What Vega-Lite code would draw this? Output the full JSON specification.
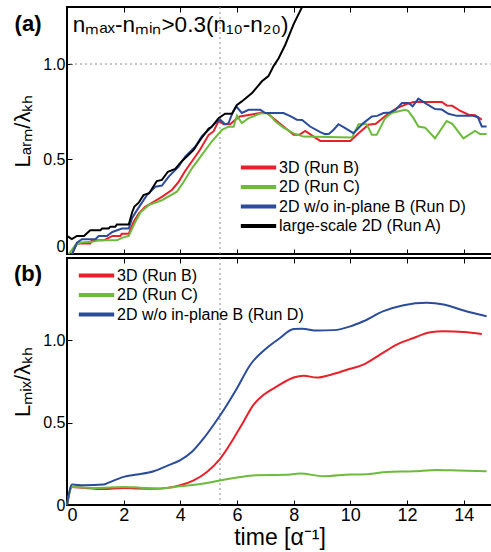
{
"$schema": "https://vega.github.io/schema/vega-lite/v6.json",
"padding": {"left": 10, "top": 5, "right": 0, "bottom": 0},
"config": {
  "font": "Liberation Sans",
  "view": {"stroke": "black", "strokeWidth": 2},
  "axis": {"domain": false, "grid": false, "ticks": true, "tickColor": "black", "tickSize": -5, "tickWidth": 1, "labelColor": "black", "titleColor": "black", "titleFontWeight": "normal", "labelFont": "Liberation Sans", "titleFont": "Liberation Sans", "minExtent": 0},
  "legend": {"title": null, "symbolType": "M-2.5,0L2.5,0", "symbolSize": 200, "symbolStrokeWidth": 4, "labelFontSize": 16, "labelOffset": 11, "labelLimit": 300, "rowPadding": 1.5, "labelFont": "Liberation Sans", "labelColor": "black"}
},
"spacing": 0,
"resolve": {"scale": {"color": "independent", "y": "independent"}, "legend": {"color": "independent"}},
"datasets": {
  "a": [
    {"run": "3D (Run B)", "t": 0.18, "v": 0}, {"run": "3D (Run B)", "t": 0.35, "v": 0.055}, {"run": "3D (Run B)", "t": 0.82, "v": 0.055}, {"run": "3D (Run B)", "t": 0.88, "v": 0.072}, {"run": "3D (Run B)", "t": 1.3, "v": 0.072}, {"run": "3D (Run B)", "t": 1.4, "v": 0.08}, {"run": "3D (Run B)", "t": 1.6, "v": 0.095}, {"run": "3D (Run B)", "t": 1.88, "v": 0.095}, {"run": "3D (Run B)", "t": 1.94, "v": 0.107}, {"run": "3D (Run B)", "t": 2.18, "v": 0.107}, {"run": "3D (Run B)", "t": 2.35, "v": 0.169}, {"run": "3D (Run B)", "t": 2.53, "v": 0.213}, {"run": "3D (Run B)", "t": 2.76, "v": 0.248}, {"run": "3D (Run B)", "t": 3.06, "v": 0.275}, {"run": "3D (Run B)", "t": 3.35, "v": 0.301}, {"run": "3D (Run B)", "t": 3.7, "v": 0.337}, {"run": "3D (Run B)", "t": 3.94, "v": 0.38}, {"run": "3D (Run B)", "t": 4.17, "v": 0.437}, {"run": "3D (Run B)", "t": 4.53, "v": 0.513}, {"run": "3D (Run B)", "t": 4.7, "v": 0.55}, {"run": "3D (Run B)", "t": 5.0, "v": 0.627}, {"run": "3D (Run B)", "t": 5.17, "v": 0.645}, {"run": "3D (Run B)", "t": 5.35, "v": 0.7}, {"run": "3D (Run B)", "t": 5.53, "v": 0.683}, {"run": "3D (Run B)", "t": 5.76, "v": 0.683}, {"run": "3D (Run B)", "t": 5.97, "v": 0.71}, {"run": "3D (Run B)", "t": 6.1, "v": 0.724}, {"run": "3D (Run B)", "t": 6.47, "v": 0.733}, {"run": "3D (Run B)", "t": 6.82, "v": 0.742}, {"run": "3D (Run B)", "t": 7.05, "v": 0.742}, {"run": "3D (Run B)", "t": 7.35, "v": 0.707}, {"run": "3D (Run B)", "t": 7.64, "v": 0.671}, {"run": "3D (Run B)", "t": 8.0, "v": 0.627}, {"run": "3D (Run B)", "t": 8.2, "v": 0.627}, {"run": "3D (Run B)", "t": 8.41, "v": 0.648}, {"run": "3D (Run B)", "t": 8.64, "v": 0.624}, {"run": "3D (Run B)", "t": 8.94, "v": 0.595}, {"run": "3D (Run B)", "t": 10.0, "v": 0.595}, {"run": "3D (Run B)", "t": 10.29, "v": 0.636}, {"run": "3D (Run B)", "t": 10.64, "v": 0.68}, {"run": "3D (Run B)", "t": 10.9, "v": 0.685}, {"run": "3D (Run B)", "t": 11.29, "v": 0.733}, {"run": "3D (Run B)", "t": 11.64, "v": 0.768}, {"run": "3D (Run B)", "t": 11.99, "v": 0.789}, {"run": "3D (Run B)", "t": 12.23, "v": 0.8}, {"run": "3D (Run B)", "t": 13.23, "v": 0.8}, {"run": "3D (Run B)", "t": 13.4, "v": 0.782}, {"run": "3D (Run B)", "t": 13.6, "v": 0.78}, {"run": "3D (Run B)", "t": 13.87, "v": 0.754}, {"run": "3D (Run B)", "t": 14.17, "v": 0.733}, {"run": "3D (Run B)", "t": 14.4, "v": 0.73}, {"run": "3D (Run B)", "t": 14.64, "v": 0.707},
    {"run": "2D (Run C)", "t": 0.06, "v": 0}, {"run": "2D (Run C)", "t": 0.29, "v": 0.046}, {"run": "2D (Run C)", "t": 0.5, "v": 0.06}, {"run": "2D (Run C)", "t": 0.9, "v": 0.065}, {"run": "2D (Run C)", "t": 1.12, "v": 0.072}, {"run": "2D (Run C)", "t": 1.76, "v": 0.072}, {"run": "2D (Run C)", "t": 1.94, "v": 0.085}, {"run": "2D (Run C)", "t": 2.18, "v": 0.095}, {"run": "2D (Run C)", "t": 2.41, "v": 0.169}, {"run": "2D (Run C)", "t": 2.6, "v": 0.22}, {"run": "2D (Run C)", "t": 2.88, "v": 0.257}, {"run": "2D (Run C)", "t": 3.35, "v": 0.283}, {"run": "2D (Run C)", "t": 3.88, "v": 0.328}, {"run": "2D (Run C)", "t": 4.12, "v": 0.38}, {"run": "2D (Run C)", "t": 4.41, "v": 0.451}, {"run": "2D (Run C)", "t": 4.76, "v": 0.522}, {"run": "2D (Run C)", "t": 5.11, "v": 0.592}, {"run": "2D (Run C)", "t": 5.47, "v": 0.654}, {"run": "2D (Run C)", "t": 5.7, "v": 0.67}, {"run": "2D (Run C)", "t": 5.88, "v": 0.67}, {"run": "2D (Run C)", "t": 6.0, "v": 0.728}, {"run": "2D (Run C)", "t": 6.17, "v": 0.689}, {"run": "2D (Run C)", "t": 6.41, "v": 0.715}, {"run": "2D (Run C)", "t": 6.58, "v": 0.724}, {"run": "2D (Run C)", "t": 6.82, "v": 0.74}, {"run": "2D (Run C)", "t": 7.11, "v": 0.742}, {"run": "2D (Run C)", "t": 7.35, "v": 0.698}, {"run": "2D (Run C)", "t": 7.64, "v": 0.665}, {"run": "2D (Run C)", "t": 8.0, "v": 0.635}, {"run": "2D (Run C)", "t": 8.35, "v": 0.618}, {"run": "2D (Run C)", "t": 10.06, "v": 0.613}, {"run": "2D (Run C)", "t": 10.29, "v": 0.683}, {"run": "2D (Run C)", "t": 10.58, "v": 0.683}, {"run": "2D (Run C)", "t": 10.76, "v": 0.627}, {"run": "2D (Run C)", "t": 10.93, "v": 0.627}, {"run": "2D (Run C)", "t": 11.23, "v": 0.715}, {"run": "2D (Run C)", "t": 11.46, "v": 0.742}, {"run": "2D (Run C)", "t": 11.93, "v": 0.759}, {"run": "2D (Run C)", "t": 12.05, "v": 0.752}, {"run": "2D (Run C)", "t": 12.23, "v": 0.715}, {"run": "2D (Run C)", "t": 12.4, "v": 0.671}, {"run": "2D (Run C)", "t": 12.64, "v": 0.665}, {"run": "2D (Run C)", "t": 12.99, "v": 0.609}, {"run": "2D (Run C)", "t": 13.4, "v": 0.7}, {"run": "2D (Run C)", "t": 13.6, "v": 0.685}, {"run": "2D (Run C)", "t": 13.99, "v": 0.609}, {"run": "2D (Run C)", "t": 14.4, "v": 0.648}, {"run": "2D (Run C)", "t": 14.58, "v": 0.631}, {"run": "2D (Run C)", "t": 14.81, "v": 0.631},
    {"run": "2D w/o in-plane B (Run D)", "t": 0.18, "v": 0}, {"run": "2D w/o in-plane B (Run D)", "t": 0.35, "v": 0.06}, {"run": "2D w/o in-plane B (Run D)", "t": 0.53, "v": 0.078}, {"run": "2D w/o in-plane B (Run D)", "t": 1.0, "v": 0.078}, {"run": "2D w/o in-plane B (Run D)", "t": 1.12, "v": 0.095}, {"run": "2D w/o in-plane B (Run D)", "t": 1.41, "v": 0.095}, {"run": "2D w/o in-plane B (Run D)", "t": 1.6, "v": 0.116}, {"run": "2D w/o in-plane B (Run D)", "t": 1.94, "v": 0.134}, {"run": "2D w/o in-plane B (Run D)", "t": 2.18, "v": 0.134}, {"run": "2D w/o in-plane B (Run D)", "t": 2.3, "v": 0.19}, {"run": "2D w/o in-plane B (Run D)", "t": 2.47, "v": 0.231}, {"run": "2D w/o in-plane B (Run D)", "t": 2.82, "v": 0.31}, {"run": "2D w/o in-plane B (Run D)", "t": 3.12, "v": 0.354}, {"run": "2D w/o in-plane B (Run D)", "t": 3.35, "v": 0.36}, {"run": "2D w/o in-plane B (Run D)", "t": 3.59, "v": 0.407}, {"run": "2D w/o in-plane B (Run D)", "t": 3.94, "v": 0.46}, {"run": "2D w/o in-plane B (Run D)", "t": 4.17, "v": 0.513}, {"run": "2D w/o in-plane B (Run D)", "t": 4.53, "v": 0.566}, {"run": "2D w/o in-plane B (Run D)", "t": 4.76, "v": 0.62}, {"run": "2D w/o in-plane B (Run D)", "t": 5.0, "v": 0.654}, {"run": "2D w/o in-plane B (Run D)", "t": 5.23, "v": 0.689}, {"run": "2D w/o in-plane B (Run D)", "t": 5.41, "v": 0.707}, {"run": "2D w/o in-plane B (Run D)", "t": 5.58, "v": 0.683}, {"run": "2D w/o in-plane B (Run D)", "t": 5.7, "v": 0.688}, {"run": "2D w/o in-plane B (Run D)", "t": 5.82, "v": 0.735}, {"run": "2D w/o in-plane B (Run D)", "t": 5.97, "v": 0.777}, {"run": "2D w/o in-plane B (Run D)", "t": 6.17, "v": 0.742}, {"run": "2D w/o in-plane B (Run D)", "t": 6.41, "v": 0.759}, {"run": "2D w/o in-plane B (Run D)", "t": 6.82, "v": 0.759}, {"run": "2D w/o in-plane B (Run D)", "t": 7.0, "v": 0.742}, {"run": "2D w/o in-plane B (Run D)", "t": 7.64, "v": 0.742}, {"run": "2D w/o in-plane B (Run D)", "t": 7.9, "v": 0.724}, {"run": "2D w/o in-plane B (Run D)", "t": 8.11, "v": 0.707}, {"run": "2D w/o in-plane B (Run D)", "t": 8.3, "v": 0.705}, {"run": "2D w/o in-plane B (Run D)", "t": 8.58, "v": 0.671}, {"run": "2D w/o in-plane B (Run D)", "t": 8.94, "v": 0.641}, {"run": "2D w/o in-plane B (Run D)", "t": 9.11, "v": 0.631}, {"run": "2D w/o in-plane B (Run D)", "t": 9.25, "v": 0.633}, {"run": "2D w/o in-plane B (Run D)", "t": 9.41, "v": 0.654}, {"run": "2D w/o in-plane B (Run D)", "t": 9.58, "v": 0.683}, {"run": "2D w/o in-plane B (Run D)", "t": 9.82, "v": 0.662}, {"run": "2D w/o in-plane B (Run D)", "t": 10.11, "v": 0.636}, {"run": "2D w/o in-plane B (Run D)", "t": 10.46, "v": 0.689}, {"run": "2D w/o in-plane B (Run D)", "t": 10.76, "v": 0.724}, {"run": "2D w/o in-plane B (Run D)", "t": 10.95, "v": 0.727}, {"run": "2D w/o in-plane B (Run D)", "t": 11.17, "v": 0.742}, {"run": "2D w/o in-plane B (Run D)", "t": 11.4, "v": 0.745}, {"run": "2D w/o in-plane B (Run D)", "t": 11.6, "v": 0.76}, {"run": "2D w/o in-plane B (Run D)", "t": 11.82, "v": 0.795}, {"run": "2D w/o in-plane B (Run D)", "t": 12.05, "v": 0.795}, {"run": "2D w/o in-plane B (Run D)", "t": 12.2, "v": 0.777}, {"run": "2D w/o in-plane B (Run D)", "t": 12.4, "v": 0.818}, {"run": "2D w/o in-plane B (Run D)", "t": 12.7, "v": 0.789}, {"run": "2D w/o in-plane B (Run D)", "t": 12.99, "v": 0.763}, {"run": "2D w/o in-plane B (Run D)", "t": 13.23, "v": 0.76}, {"run": "2D w/o in-plane B (Run D)", "t": 13.46, "v": 0.738}, {"run": "2D w/o in-plane B (Run D)", "t": 13.76, "v": 0.727}, {"run": "2D w/o in-plane B (Run D)", "t": 14.34, "v": 0.727}, {"run": "2D w/o in-plane B (Run D)", "t": 14.5, "v": 0.72}, {"run": "2D w/o in-plane B (Run D)", "t": 14.64, "v": 0.671}, {"run": "2D w/o in-plane B (Run D)", "t": 14.81, "v": 0.671},
    {"run": "large-scale 2D (Run A)", "t": 0.0, "v": 0.095}, {"run": "large-scale 2D (Run A)", "t": 0.17, "v": 0.078}, {"run": "large-scale 2D (Run A)", "t": 0.35, "v": 0.095}, {"run": "large-scale 2D (Run A)", "t": 0.6, "v": 0.095}, {"run": "large-scale 2D (Run A)", "t": 0.82, "v": 0.125}, {"run": "large-scale 2D (Run A)", "t": 1.18, "v": 0.125}, {"run": "large-scale 2D (Run A)", "t": 1.24, "v": 0.134}, {"run": "large-scale 2D (Run A)", "t": 1.47, "v": 0.134}, {"run": "large-scale 2D (Run A)", "t": 1.53, "v": 0.143}, {"run": "large-scale 2D (Run A)", "t": 1.7, "v": 0.143}, {"run": "large-scale 2D (Run A)", "t": 1.76, "v": 0.155}, {"run": "large-scale 2D (Run A)", "t": 2.18, "v": 0.155}, {"run": "large-scale 2D (Run A)", "t": 2.3, "v": 0.22}, {"run": "large-scale 2D (Run A)", "t": 2.38, "v": 0.25}, {"run": "large-scale 2D (Run A)", "t": 2.53, "v": 0.27}, {"run": "large-scale 2D (Run A)", "t": 2.7, "v": 0.31}, {"run": "large-scale 2D (Run A)", "t": 2.9, "v": 0.32}, {"run": "large-scale 2D (Run A)", "t": 3.17, "v": 0.384}, {"run": "large-scale 2D (Run A)", "t": 3.35, "v": 0.39}, {"run": "large-scale 2D (Run A)", "t": 3.56, "v": 0.433}, {"run": "large-scale 2D (Run A)", "t": 3.82, "v": 0.448}, {"run": "large-scale 2D (Run A)", "t": 4.06, "v": 0.49}, {"run": "large-scale 2D (Run A)", "t": 4.23, "v": 0.513}, {"run": "large-scale 2D (Run A)", "t": 4.47, "v": 0.548}, {"run": "large-scale 2D (Run A)", "t": 4.7, "v": 0.6}, {"run": "large-scale 2D (Run A)", "t": 5.0, "v": 0.66}, {"run": "large-scale 2D (Run A)", "t": 5.1, "v": 0.668}, {"run": "large-scale 2D (Run A)", "t": 5.35, "v": 0.715}, {"run": "large-scale 2D (Run A)", "t": 5.58, "v": 0.738}, {"run": "large-scale 2D (Run A)", "t": 5.82, "v": 0.738}, {"run": "large-scale 2D (Run A)", "t": 6.0, "v": 0.785}, {"run": "large-scale 2D (Run A)", "t": 6.17, "v": 0.803}, {"run": "large-scale 2D (Run A)", "t": 6.53, "v": 0.847}, {"run": "large-scale 2D (Run A)", "t": 6.88, "v": 0.909}, {"run": "large-scale 2D (Run A)", "t": 7.11, "v": 0.936}, {"run": "large-scale 2D (Run A)", "t": 7.29, "v": 0.989}, {"run": "large-scale 2D (Run A)", "t": 7.47, "v": 1.03}, {"run": "large-scale 2D (Run A)", "t": 7.7, "v": 1.1}, {"run": "large-scale 2D (Run A)", "t": 8.0, "v": 1.21}, {"run": "large-scale 2D (Run A)", "t": 8.33, "v": 1.31}, {"run": "large-scale 2D (Run A)", "t": 8.6, "v": 1.4}
  ],
  "b": [
    {"run": "3D (Run B)", "t": 0.0, "v": 0}, {"run": "3D (Run B)", "t": 0.18, "v": 0.11}, {"run": "3D (Run B)", "t": 0.59, "v": 0.104}, {"run": "3D (Run B)", "t": 1.29, "v": 0.097}, {"run": "3D (Run B)", "t": 2.0, "v": 0.104}, {"run": "3D (Run B)", "t": 2.47, "v": 0.1}, {"run": "3D (Run B)", "t": 3.06, "v": 0.098}, {"run": "3D (Run B)", "t": 3.53, "v": 0.104}, {"run": "3D (Run B)", "t": 4.0, "v": 0.12}, {"run": "3D (Run B)", "t": 4.47, "v": 0.15}, {"run": "3D (Run B)", "t": 4.94, "v": 0.201}, {"run": "3D (Run B)", "t": 5.41, "v": 0.282}, {"run": "3D (Run B)", "t": 5.88, "v": 0.404}, {"run": "3D (Run B)", "t": 6.23, "v": 0.506}, {"run": "3D (Run B)", "t": 6.58, "v": 0.608}, {"run": "3D (Run B)", "t": 6.94, "v": 0.669}, {"run": "3D (Run B)", "t": 7.41, "v": 0.72}, {"run": "3D (Run B)", "t": 8.0, "v": 0.774}, {"run": "3D (Run B)", "t": 8.35, "v": 0.785}, {"run": "3D (Run B)", "t": 8.82, "v": 0.774}, {"run": "3D (Run B)", "t": 9.29, "v": 0.79}, {"run": "3D (Run B)", "t": 9.88, "v": 0.821}, {"run": "3D (Run B)", "t": 10.46, "v": 0.852}, {"run": "3D (Run B)", "t": 11.05, "v": 0.913}, {"run": "3D (Run B)", "t": 11.64, "v": 0.974}, {"run": "3D (Run B)", "t": 12.23, "v": 1.014}, {"run": "3D (Run B)", "t": 12.82, "v": 1.049}, {"run": "3D (Run B)", "t": 13.29, "v": 1.055}, {"run": "3D (Run B)", "t": 14.0, "v": 1.051}, {"run": "3D (Run B)", "t": 14.64, "v": 1.039},
    {"run": "2D (Run C)", "t": 0.0, "v": 0}, {"run": "2D (Run C)", "t": 0.18, "v": 0.11}, {"run": "2D (Run C)", "t": 1.0, "v": 0.104}, {"run": "2D (Run C)", "t": 2.0, "v": 0.11}, {"run": "2D (Run C)", "t": 2.6, "v": 0.105}, {"run": "2D (Run C)", "t": 3.24, "v": 0.1}, {"run": "2D (Run C)", "t": 4.0, "v": 0.114}, {"run": "2D (Run C)", "t": 4.82, "v": 0.13}, {"run": "2D (Run C)", "t": 5.53, "v": 0.154}, {"run": "2D (Run C)", "t": 6.0, "v": 0.167}, {"run": "2D (Run C)", "t": 6.7, "v": 0.181}, {"run": "2D (Run C)", "t": 7.7, "v": 0.183}, {"run": "2D (Run C)", "t": 8.23, "v": 0.191}, {"run": "2D (Run C)", "t": 9.05, "v": 0.175}, {"run": "2D (Run C)", "t": 10.0, "v": 0.185}, {"run": "2D (Run C)", "t": 10.6, "v": 0.187}, {"run": "2D (Run C)", "t": 11.29, "v": 0.201}, {"run": "2D (Run C)", "t": 12.23, "v": 0.205}, {"run": "2D (Run C)", "t": 13.05, "v": 0.213}, {"run": "2D (Run C)", "t": 13.8, "v": 0.21}, {"run": "2D (Run C)", "t": 14.81, "v": 0.205},
    {"run": "2D w/o in-plane B (Run D)", "t": 0.0, "v": 0}, {"run": "2D w/o in-plane B (Run D)", "t": 0.18, "v": 0.124}, {"run": "2D w/o in-plane B (Run D)", "t": 0.59, "v": 0.12}, {"run": "2D w/o in-plane B (Run D)", "t": 1.29, "v": 0.124}, {"run": "2D w/o in-plane B (Run D)", "t": 1.47, "v": 0.136}, {"run": "2D w/o in-plane B (Run D)", "t": 2.0, "v": 0.171}, {"run": "2D w/o in-plane B (Run D)", "t": 2.47, "v": 0.185}, {"run": "2D w/o in-plane B (Run D)", "t": 3.06, "v": 0.205}, {"run": "2D w/o in-plane B (Run D)", "t": 3.53, "v": 0.238}, {"run": "2D w/o in-plane B (Run D)", "t": 4.0, "v": 0.272}, {"run": "2D w/o in-plane B (Run D)", "t": 4.41, "v": 0.323}, {"run": "2D w/o in-plane B (Run D)", "t": 4.82, "v": 0.404}, {"run": "2D w/o in-plane B (Run D)", "t": 5.17, "v": 0.486}, {"run": "2D w/o in-plane B (Run D)", "t": 5.53, "v": 0.577}, {"run": "2D w/o in-plane B (Run D)", "t": 6.0, "v": 0.709}, {"run": "2D w/o in-plane B (Run D)", "t": 6.47, "v": 0.852}, {"run": "2D w/o in-plane B (Run D)", "t": 7.05, "v": 0.953}, {"run": "2D w/o in-plane B (Run D)", "t": 7.52, "v": 1.014}, {"run": "2D w/o in-plane B (Run D)", "t": 8.0, "v": 1.069}, {"run": "2D w/o in-plane B (Run D)", "t": 8.3, "v": 1.07}, {"run": "2D w/o in-plane B (Run D)", "t": 8.82, "v": 1.059}, {"run": "2D w/o in-plane B (Run D)", "t": 9.41, "v": 1.062}, {"run": "2D w/o in-plane B (Run D)", "t": 10.0, "v": 1.085}, {"run": "2D w/o in-plane B (Run D)", "t": 10.46, "v": 1.116}, {"run": "2D w/o in-plane B (Run D)", "t": 11.17, "v": 1.177}, {"run": "2D w/o in-plane B (Run D)", "t": 11.88, "v": 1.213}, {"run": "2D w/o in-plane B (Run D)", "t": 12.7, "v": 1.228}, {"run": "2D w/o in-plane B (Run D)", "t": 13.29, "v": 1.218}, {"run": "2D w/o in-plane B (Run D)", "t": 14.0, "v": 1.181}, {"run": "2D w/o in-plane B (Run D)", "t": 14.81, "v": 1.146}
  ]
},
"vconcat": [
  {
    "width": 425, "height": 247,
    "resolve": {"axis": {"x": "independent"}},
    "layer": [
      {"data": {"values": [{"v": 1}]}, "mark": {"type": "rule", "strokeDash": [2, 3], "color": "#8c8c8c", "strokeWidth": 1},
       "encoding": {"y": {"field": "v", "type": "quantitative", "scale": {"domain": [0, 1.3], "nice": false, "zero": false}, "axis": {"values": [0, 0.5, 1], "labelExpr": "datum.value == 0 ? '0' : format(datum.value, '.1f')", "labelFontSize": 16, "labelPadding": 7, "labelFlush": true, "title": "Lₐᵣₘ/λₖₕ", "titleFontSize": 22, "titlePadding": 8}}}},
      {"data": {"values": [{"t": 5.4}]}, "mark": {"type": "rule", "strokeDash": [2, 3], "color": "#8c8c8c", "strokeWidth": 1},
       "encoding": {"x": {"field": "t", "type": "quantitative", "scale": {"domain": [0, 15], "nice": false, "zero": false}, "axis": {"orient": "top", "values": [0, 2, 4, 6, 8, 10, 12, 14], "labels": false, "title": null}}}},
      {"data": {"name": "a"}, "mark": {"type": "line", "strokeWidth": 2, "clip": true},
       "encoding": {
         "x": {"field": "t", "type": "quantitative", "scale": {"domain": [0, 15], "nice": false, "zero": false}, "axis": {"values": [0, 2, 4, 6, 8, 10, 12, 14], "labels": false, "title": null}},
         "y": {"field": "v", "type": "quantitative", "scale": {"domain": [0, 1.3], "nice": false, "zero": false}, "axis": {"values": [0, 0.5, 1], "labelExpr": "datum.value == 0 ? '0' : format(datum.value, '.1f')", "labelFontSize": 16, "labelPadding": 7, "labelFlush": true, "title": "Lₐᵣₘ/λₖₕ", "titleFontSize": 22, "titlePadding": 8}},
         "color": {"field": "run", "type": "nominal", "scale": {"domain": ["3D (Run B)", "2D (Run C)", "2D w/o in-plane B (Run D)", "large-scale 2D (Run A)"], "range": ["#e8202a", "#6cbb3c", "#2b4c9b", "#000000"]}, "sort": null,
           "legend": {"orient": "none", "legendX": 182, "legendY": 151}}
       }},
      {"data": {"values": [{"t": 0.2, "v": 1.205, "label": "nₘₐₓ-nₘᵢₙ>0.3(n₁₀-n₂₀)"}]}, "mark": {"type": "text", "align": "left", "baseline": "middle", "fontSize": 22.5, "color": "black"},
       "encoding": {"x": {"field": "t", "type": "quantitative", "axis": null}, "y": {"field": "v", "type": "quantitative", "scale": {"domain": [0, 1.3], "nice": false, "zero": false}, "axis": {"values": [0, 0.5, 1], "labelExpr": "datum.value == 0 ? '0' : format(datum.value, '.1f')", "labelFontSize": 16, "labelPadding": 7, "labelFlush": true, "title": "Lₐᵣₘ/λₖₕ", "titleFontSize": 22, "titlePadding": 8}}, "text": {"field": "label"}}},
      {"data": {"values": [{"t": -1.376, "v": 1.21, "label": "(a)"}]}, "mark": {"type": "text", "align": "center", "baseline": "middle", "fontSize": 22, "fontWeight": "bold", "color": "black"},
       "encoding": {"x": {"field": "t", "type": "quantitative", "axis": null}, "y": {"field": "v", "type": "quantitative", "scale": {"domain": [0, 1.3], "nice": false, "zero": false}, "axis": {"values": [0, 0.5, 1], "labelExpr": "datum.value == 0 ? '0' : format(datum.value, '.1f')", "labelFontSize": 16, "labelPadding": 7, "labelFlush": true, "title": "Lₐᵣₘ/λₖₕ", "titleFontSize": 22, "titlePadding": 8}}, "text": {"field": "label"}}}
    ]
  },
  {
    "width": 425, "height": 247,
    "resolve": {"axis": {"x": "independent"}},
    "layer": [
      {"data": {"values": [{"t": 5.4}]}, "mark": {"type": "rule", "strokeDash": [2, 3], "color": "#8c8c8c", "strokeWidth": 1},
       "encoding": {"x": {"field": "t", "type": "quantitative", "scale": {"domain": [0, 15], "nice": false, "zero": false}, "axis": {"orient": "top", "values": [0, 2, 4, 6, 8, 10, 12, 14], "labels": false, "title": null}}}},
      {"data": {"name": "b"}, "mark": {"type": "line", "strokeWidth": 2, "interpolate": "monotone"},
       "encoding": {
         "x": {"field": "t", "type": "quantitative", "scale": {"domain": [0, 15], "nice": false, "zero": false}, "axis": {"values": [0, 2, 4, 6, 8, 10, 12, 14], "labelFontSize": 18, "labelPadding": 6, "title": "time [α⁻¹]", "titleFontSize": 23, "titlePadding": 2}},
         "y": {"field": "v", "type": "quantitative", "scale": {"domain": [0, 1.5], "nice": false, "zero": false}, "axis": {"values": [0, 0.5, 1], "labelExpr": "datum.value == 0 ? '0' : format(datum.value, '.1f')", "labelFontSize": 16, "labelPadding": 7, "title": "Lₘᵢₓ/λₖₕ", "titleFontSize": 22, "titlePadding": 8}},
         "color": {"field": "run", "type": "nominal", "scale": {"domain": ["3D (Run B)", "2D (Run C)", "2D w/o in-plane B (Run D)"], "range": ["#e8202a", "#6cbb3c", "#2b4c9b"]}, "sort": null,
           "legend": {"orient": "none", "legendX": 20, "legendY": 8}}
       }},
      {"data": {"values": [{"t": -1.376, "v": 1.4, "label": "(b)"}]}, "mark": {"type": "text", "align": "center", "baseline": "middle", "fontSize": 22, "fontWeight": "bold", "color": "black"},
       "encoding": {"x": {"field": "t", "type": "quantitative", "axis": null}, "y": {"field": "v", "type": "quantitative", "scale": {"domain": [0, 1.5], "nice": false, "zero": false}, "axis": {"values": [0, 0.5, 1], "labelExpr": "datum.value == 0 ? '0' : format(datum.value, '.1f')", "labelFontSize": 16, "labelPadding": 7, "title": "Lₘᵢₓ/λₖₕ", "titleFontSize": 22, "titlePadding": 8}}, "text": {"field": "label"}}}
    ]
  }
]
}
